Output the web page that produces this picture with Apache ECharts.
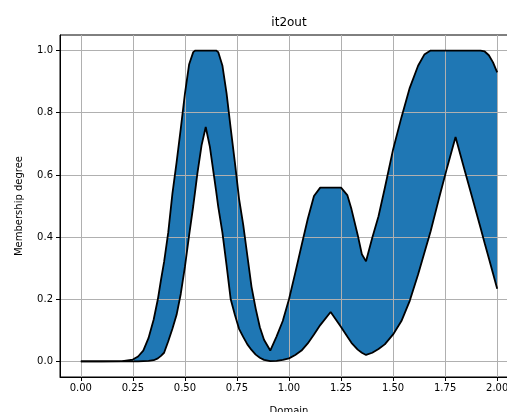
<!DOCTYPE html>
<html>
<head>
<meta charset="utf-8">
<script src="https://cdn.jsdelivr.net/npm/echarts@6/dist/echarts.min.js"></script>
<style>
  html, body { margin: 0; padding: 0; background: #fff; }
  #chart { width: 507px; height: 412px; }
</style>
</head>
<body>
<div id="chart"></div>
<script>
// 横轴取样点
const xs = [0, 0.1, 0.2, 0.25, 0.275, 0.3, 0.325, 0.35, 0.37, 0.385, 0.4, 0.42, 0.44, 0.46, 0.48, 0.5, 0.52, 0.54, 0.55, 0.56,
  0.58, 0.6, 0.62, 0.64, 0.65, 0.66, 0.68, 0.7, 0.72, 0.74, 0.76, 0.78, 0.8, 0.82, 0.84, 0.86, 0.88, 0.91, 0.94, 0.97,
  1.0, 1.03, 1.06, 1.09, 1.12, 1.15, 1.2, 1.25, 1.28, 1.3, 1.33, 1.35, 1.37, 1.4, 1.43, 1.46, 1.5, 1.54, 1.58, 1.62,
  1.65, 1.68, 1.72, 1.76, 1.8, 1.84, 1.88, 1.92, 1.94, 1.96, 1.98, 2.0];

// 上隶属函数
const upper = [0, 0, 0.001, 0.006, 0.016, 0.035, 0.075, 0.135, 0.2, 0.262, 0.32, 0.415, 0.54, 0.64, 0.748, 0.861, 0.955, 0.995, 1, 1,
  1, 1, 1, 1, 1, 0.995, 0.952, 0.863, 0.75, 0.64, 0.524, 0.44, 0.34, 0.24, 0.17, 0.11, 0.07, 0.035, 0.08, 0.13,
  0.2, 0.285, 0.372, 0.458, 0.532, 0.559, 0.559, 0.559, 0.535, 0.49, 0.407, 0.345, 0.322, 0.398, 0.467, 0.557, 0.682, 0.785, 0.88, 0.951,
  0.987, 1, 1, 1, 1, 1, 1, 1, 0.997, 0.985, 0.962, 0.93];

// 下隶属函数
const lower = [0, 0, 0, 0, 0, 0.001, 0.002, 0.004, 0.01, 0.018, 0.028, 0.065, 0.105, 0.15, 0.217, 0.304, 0.405, 0.5, 0.552, 0.605,
  0.695, 0.754, 0.69, 0.595, 0.548, 0.498, 0.415, 0.31, 0.2, 0.15, 0.105, 0.079, 0.055, 0.037, 0.022, 0.012, 0.005, 0.001, 0.002, 0.005,
  0.01, 0.021, 0.035, 0.058, 0.087, 0.117, 0.159, 0.111, 0.08, 0.06, 0.038, 0.028, 0.021, 0.028, 0.04, 0.055, 0.087, 0.13, 0.195, 0.28,
  0.349, 0.418, 0.523, 0.625, 0.722, 0.624, 0.527, 0.43, 0.38, 0.332, 0.283, 0.234];

const xTicks = [0, 0.25, 0.5, 0.75, 1.0, 1.25, 1.5, 1.75, 2.0];
const yTicks = [0, 0.2, 0.4, 0.6, 0.8, 1.0];

const chart = echarts.init(document.getElementById('chart'));

const font = 'DejaVu Sans';
const gridLine = { show: true, lineStyle: { color: '#b0b0b0', width: 1 } };

const option = {
  animation: false,
  title: {
    text: 'it2out',
    left: 289,
    top: 17,
    padding: 0,
    textAlign: 'center',
    textStyle: { fontFamily: font, fontSize: 12, fontWeight: 'normal', color: '#000' }
  },
  grid: {
    left: 60,
    width: 458,
    top: 35,
    bottom: 35,
    containLabel: false,
    outerBoundsMode: 'none',
    show: true,
    borderColor: '#000',
    borderWidth: 1,
    backgroundColor: 'transparent'
  },
  xAxis: {
    type: 'value',
    min: -0.1,
    max: 2.1,
    z: 3,
    name: 'Domain',
    nameLocation: 'middle',
    nameGap: 29,
    nameTextStyle: { fontFamily: font, fontSize: 10, color: '#000' },
    axisLine: { show: true, onZero: false, lineStyle: { color: '#000', width: 1 } },
    axisTick: { show: true, length: 4, customValues: xTicks, lineStyle: { color: '#000' } },
    axisLabel: {
      customValues: xTicks,
      margin: 6,
      fontFamily: font,
      fontSize: 10,
      color: '#000',
      formatter: v => v.toFixed(2)
    },
    splitLine: gridLine
  },
  yAxis: {
    type: 'value',
    min: -0.05,
    max: 1.05,
    z: 3,
    name: 'Membership degree',
    nameLocation: 'middle',
    nameGap: 36,
    nameTextStyle: { fontFamily: font, fontSize: 10, color: '#000' },
    axisLine: { show: true, onZero: false, lineStyle: { color: '#000', width: 1 } },
    axisTick: { show: true, length: 4, customValues: yTicks, lineStyle: { color: '#000' } },
    axisLabel: {
      customValues: yTicks,
      margin: 7,
      fontFamily: font,
      fontSize: 10,
      color: '#000',
      formatter: v => v.toFixed(1)
    },
    splitLine: gridLine
  },
  series: [
    {
      // 上下隶属函数之间的填充
      type: 'custom',
      data: [0],
      silent: true,
      z: 1,
      renderItem: function(params, api) {
        const top = xs.map((x, i) => api.coord([x, upper[i]]));
        const bottom = xs.map((x, i) => api.coord([x, lower[i]])).reverse();
        return {
          type: 'polygon',
          shape: { points: top.concat(bottom) },
          style: { fill: '#1f77b4', stroke: null }
        };
      }
    },
    {
      type: 'line',
      data: xs.map((x, i) => [x, upper[i]]),
      symbol: 'none',
      lineStyle: { color: '#000', width: 1.8 },
      z: 5
    },
    {
      type: 'line',
      data: xs.map((x, i) => [x, lower[i]]),
      symbol: 'none',
      lineStyle: { color: '#000', width: 1.8 },
      z: 5
    }
  ]
};

chart.setOption(option);

window.addEventListener('resize', () => {
  chart.resize();
});
</script>
</body>
</html>
